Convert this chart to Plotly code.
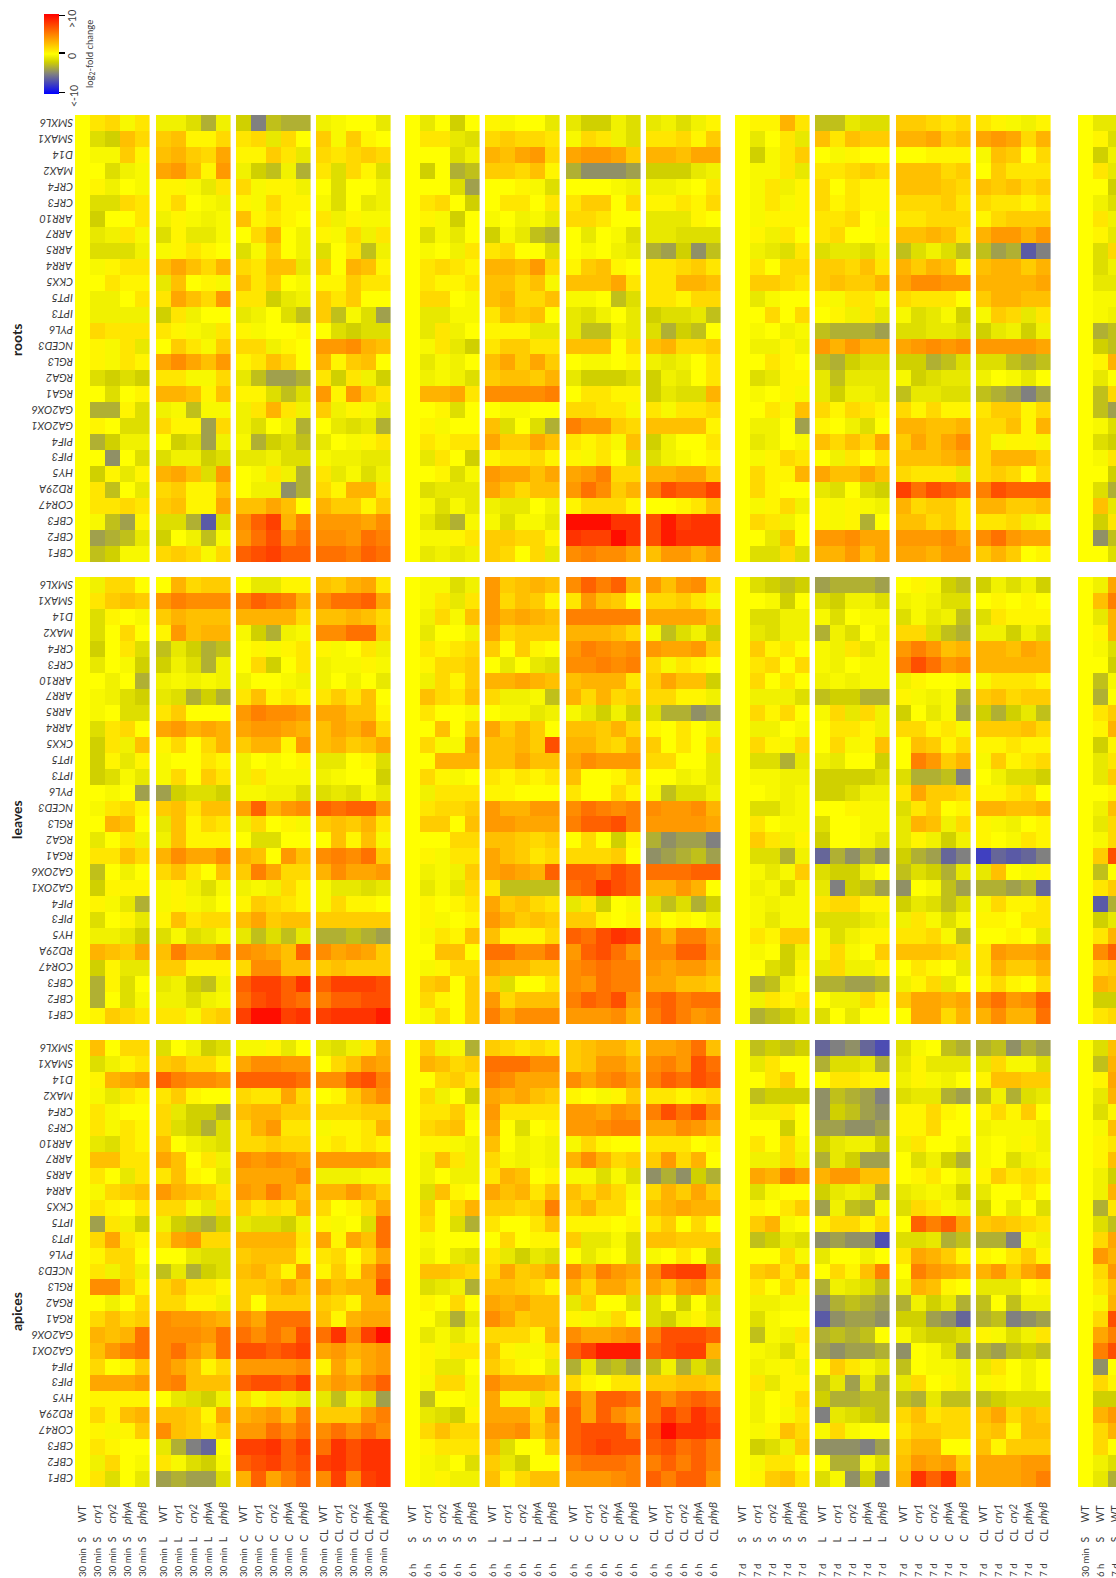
import plotly.graph_objects as go

W, H = 1116, 1578

genes = ["SMXL6","SMAX1","D14","MAX2","CRF4","CRF3","ARR10","ARR7","ARR5","ARR4","CKX5","IPT5","IPT3","PYL6",
         "NCED3","RGL3","RGA2","RGA1","GA2OX6","GA2OX1","PIF4","PIF3","HY5","RD29A","COR47","CBF3","CBF2","CBF1"]
genotypes = ["WT", "<i>cry1</i>", "<i>cry2</i>", "<i>phyA</i>", "<i>phyB</i>"]
conditions = ["S", "L", "C", "CL"]
times = ["30 min", "6 h", "7 d"]
tissues = ["roots", "leaves", "apices"]

# log2-fold change: one character per cell, see LEVELS
LEVELS = {"0":0,"1":.4,"2":1,"3":1.5,"4":2,"5":2.5,"6":3,"7":3.5,"8":4,"9":4.5,"A":5,"B":5.6,"C":6.2,"D":6.9,
          "E":7.5,"F":8,"G":9,"H":9.5,"a":-.3,"b":-.6,"c":-1,"d":-1.4,"e":-2,"f":-2.6,"g":-3.2,"h":-3.8,"i":-4.4,
          "j":-5,"k":-6,"l":-6.5,"m":-7,"n":-7.5}

roots_30min_S = """023a2 0de53 0aa41 00dba 01b0a 0dd32 0e002
0cb2a 0dddb 0a122 00211 0bb02 0bbbb 03222
01a2c 01a21 0dede 00d01 0gg1d 010dd 0gebb
00i0d 0e1c1 02f0c 02232 0afh1 0hgfc 0feaa"""
roots_30min_L = """bbdgb 45113 56437 78518 11ac2 130ab b1aba
d1cca a1210 57536 c501a 27538 e2b00 21ab2
042a4 79758 22aa3 66515 bafaa 311h3 0edhb
dbbed 675d8 34115 45117 ddgld e0bfa 343a3"""
roots_30min_C = """ejfgg 23c30 1142c befbg 3a11b 1a311 51210
0360b da40b 3255c 5240a 22ecb cb0df 1a001
33b10 12530 cfhhg 11dfd b262b bd0bg agedf
ccbdd 0a2bg 0bbig 55750 9CE6A 8BD9B CDECC"""
roots_30min_CL = """ba00c 4a410 32343 2d31d 0d00b ad0cb 2b1aa
1a3b2 d02fb 40651 11422 42400 4fadh 0dedd
88965 61450 2e2be 81842 4b1ac 0cdcg c0a12
abbcc 2cadb 31662 64414 88879 998BA BBACB"""
roots_6h_S = """0c0e0 022cd 000db 0e0gf 000dh 0230e 01ae0
0dac0 0a0b2 02321 02112 0330a 0ccaa 0c2b0
0a2ce 0cab0 0babd 06672 001d0 01a00 02122
0c20e 001da 0dccc 0adac 0cega 0aa12 0cbcb"""
roots_6h_L = """1a00c 34332 65783 44351 001ad 02202 a0bac
eacfg 2300d 66583 5535a 56335 25450 111cc
24422 57474 45546 9999A 0aa00 5d0dg 74475
12231 87757 75355 bcc0b adaac 44331 4303c"""
roots_6h_C = """ceebd a32bd 78874 giiih 000ab 24403 33200
0c0ad 0a0bc 14510 55572 aa0fd cdb0c cffbc
55503 0aa01 ceeed 02211 3322a A8843 212a5
1a20d 78A33 8B946 13331 HHHFF FEEHF 9A997"""
roots_6h_CL = """cbdb1 22314 66577 eeecb bba02 11213 ccc10
ccddd gheif 22342 22665 22133 eddcf dgef0
56334 bcb02 ebc02 ecdd6 2a223 55551 eb002
dba01 66774 ADCCE 00125 DGEFF DGFFF 58868"""
roots_7d_S = """01162 0c02c 0ea24 0aa2c 0a2b1 0a2a1 0a111
01b20 0bcd2 02033 04432 0ca00 00303 0a0ba
0bb1b 00210 0dc11 0a01a 002a5 0bb0h 0cb0a
0a132 03116 03100 0a13b 032b0 00c50 0dd3d"""
roots_7d_L = """ffcdd 52544 0a100 22343 30211 31211 2230a
23001 dccdb 44352 45446 1a22a 01b2c fgggh
86866 fgedd cfccc cebbc 31321 10bd0 53537
0b202 75575 cd0de 1a1ab 1a1g0 88977 66857"""
roots_7d_C = """44323 66745 00111 55534 55543 33342 22333
55652 fdbdf 64651 79988 32220 adcae ddccd
78989 eegfd aedcc fccdd 31311 66556 47579
55567 3222c EBDCB 63442 55342 88897 77688"""
roots_7d_CL = """21ab1 78736 a5403 04222 54534 32212 13444
68868 fhglj 56646 66667 46655 a43c2 ecbeb
88887 ddfgf b0ac0 fghjh 24413 33516 3a11a
36664 34303 ADCCC 66445 223ba 9B877 46401"""
roots_extra = """0cc 01d 0eb 02c 00e 0bd 02b
01c 0d3 0db 0cc 0aa 0ab 0gf
0ef 016 0c0 0f3 0fh 0ad 0de
0a2 00e 0dg 05c 0e2 0if 00d"""

leaves_30min_S = """0b330 02454 0d10a 0d030 0e02d 0c0ae 00b0g
0abde 0a0dd 0d230 0e2b5 0e1c1 0edac 00a0h
0a231 00650 0c02b 02253 0f0b0 0e111 01acg
0d01c 0bbce 06547 0e1cc 0g1d0 0g0da 01432"""
leaves_30min_L = """06344 8A999 46555 18566 fcegf ebdgb babab
cdgeg 24000 78676 13036 a0021 a3042 hedde
45255 c5132 b5111 69779 35205 a1bda a1ab0
15233 dadca 5A779 44111 cbefb bbdba 22a34"""
leaves_30min_C = """0cc11 ACBA6 66663 aegba 01a12 03e02 b00ab
25121 8A998 78876 46618 b0a01 b2aaa aabbd
7C689 b301a 0dd00 65085 4A733 bab31 14321
57455 cfdfc 9875C 39955 CEECF BDECB EHHEF"""
leaves_30min_CL = """54672 9BBC7 55653 99BB4 1a02b baa1a b0b0c
24250 77551 57683 56457 cc01d ba00e dcdac
CBCC8 45462 0515a 9A9B4 69778 accdc a3110
44444 ggfgh 97874 45444 CEEED ACCDD EFFFG"""
leaves_6h_S = """0aadb 0a2c2 0b3a5 0c00b 02123 01334 0b314
05325 0200a 00504 03aa7 00666 031a0 0b222
02334 04405 00033 01a22 0bab4 0cac3 01012
01a01 0a215 00550 0a133 04504 03104 0a304"""
leaves_6h_L = """84565 83541 86765 73444 40410 0c0cd 66765
3bbaf 0aacb 74640 5564D 55755 21212 11000
86688 88777 55434 75423 7876C 2ffff 74532
86454 51113 BB99B 76644 4d002 83555 A7999"""
leaves_6h_C = """9CAC6 28540 AAAAA 66653 8A989 99A9A 56662
63634 acebe 55463 66436 79888 50013 20031
9BA9A ACCDA 030e1 33340 CCBDC BCFDC c2e0a
44101 CBDFE 8CDB8 9ABAA 98BAA ACBD8 88896"""
leaves_6h_CL = """85893 3342a 77775 afdbe 87784 3a210 4755e
3311b dggih 1020b 40203 3300c 00bac afddb
98896 88887 gihhj ihgfh BBBCC 66860 dfdge
2010b 96AA7 99CC8 87886 77554 BCABB ACA89"""
leaves_7d_S = """0defe 00ae0 0ddbb 0cdbb 04120 02303 03020
0bbbd 03130 0bb0a 031a3 0ddgc 0aabb 00aba
0ddba 020aa 042b1 0ddgb 0aca4 0bada 0abaa
0acaa 02144 0a0eb 00de1 0gfb0 0b212 0gfec"""
leaves_7d_L = """hgggh debbd ad0aa gbd0b ab2ca ab0aa babaa
feegg a3c3b 0221b 03a15 bc00e eeeed eedbb
001aa d00aa e00ac kgigi deeb0 cjefh 23311
dddcb adb11 a3a04 c3bb1 gghhg 0bb31 d0c00"""
leaves_7d_C = """01aef babdd dacbf 33dfg 8A856 ADB89 b100a
1abag e0cah 3312a 05413 0A846 dggfj 27443
d2401 c65b3 c1beb eghkj fdegc i0afh ecdfd
b2ada 223af 55543 0210c b13c0 47767 07736"""
leaves_7d_CL = """ebdbe 01010 d2111 bbebd 66576 66666 a2221
45344 egecf 44453 11211 a4123 0bdde 11230
66556 1ab01 10a21 nklkj c50a1 gghgk a3112
11022 0010c 28778 26446 13103 9B89C 6966B"""
leaves_extra = """0b7 05A 0c6 016 0ad 00e 0fa
0g0 024 016 0e1 0c2 0c4 001
0b5 0c3 0a3 04D 0f0 024 0lg
0ec 026 09C 034 065 0ee 023"""

apices_30min_S = """05033 0db12 01678 0ac21 02a00 02a21 0cd21
05522 020c2 0a345 02102 0h2be 03721 01330
02b3b 09941 00b03 03534 0656B 058AB 03014
07778 01111 03156 01a14 02100 0b30a 02d0c"""
apices_30min_L = """d0bed 45331 CA998 24100 3ceeg 3degd 50bcd
7502b 2510c 86542 33ac3 befge 37833 00cdd
fcged 35221 3311b 98876 9998B 9B86B 97513
9A555 0cdeb 55417 95424 cgjk0 2adea hghhd"""
apices_30min_C = """aa1c0 79988 CCCCB 32273 56644 36822 33433
98987 77779 87A75 42326 cddeb 66662 45551
56418 44575 40444 97BBB B9B9D DDCDE 88889
CDDCE 3a2bc 6785A 88B9B EEFCE CDECD 6C7AC"""
apices_30min_CL = """cdb26 03587 99CDA 01479 33344 a1126 12121
88887 bbbaa 66864 30137 1a0dB 7175B 23037
1417B 7566D 43166 51677 BF9EH 78678 17478
687AC cfbdh 4448A 9B9B9 BFDFF EFDFF 9E9EF"""
apices_6h_S = """04bag 06534 00342 03b0e 0224a 03450 011ab
0b52b 0b0bb 0d510 04036 030dg 0a000 0b0cd
05543 0dcbg 01030 00cgc 0caca 01a22 01cc0
0a33a 0f00a 0cde1 03533 01222 0ab0d 0a1bb"""
apices_6h_L = """43232 BBB99 A9777 76754 82222 70d01 50bab
3abab 26501 75625 4434A 20025 03011 2cecd
37457 55431 76755 97455 33316 51aa2 4210c
97776 7aac2 77739 88947 6d004 4ce00 51355"""
apices_6h_C = """45664 45886 979A8 10a14 88798 889AA a3100
69634 aadad 5353a 46330 11101 4ccad 0ca0d
96A87 63775 c400d 1ab30 97789 CEGGG gcgfh
31022 B7CCB C7C97 CDDDA CDEDD ABBBA 8889A"""
apices_6h_CL = """778B5 9A8DB ACBDC 22123 ADBD9 77986 22201
48360 igieg 36474 56766 24030 55444 a020e
9DEE9 75895 d0e0d deb1c ADDDC CDEE6 fbgdf
44554 B9BCB BECFD DHFFE CDBCA ACACA CACC8"""
apices_7d_S = """0fefe 0c200 00240 0feee 0bb20 000e0 0203a
0bb3b 076A8 0da00 01024 046a0 0fecd 0003a
04525 02031 0bbaa 0da00 0fab2 0abd1 0ba1b
02c11 0b013 0b0a2 0a153 0edb4 0a220 01452"""
apices_7d_L = """kjikm gddcg 02211 ifghj iefhi hhiih ecbbe
gcehh 68855 ecbcg hbfga 13313 ihiim c00b0
0315A gbcdf jgfgh lihhi gfgf0 hihhg 042ac
fchcg eggff jcdef a3a00 iiijh 0ggad daiej"""
apices_7d_C = """da0fg c1ccc b1ab0 dccgh 11310 11300 b200b
0dbeg 0120b cbabe d32ab 0CAC7 ddcgf 27641
0A876 b6510 gbecg eehik adeed i0adh f0aab
c301b fgcff 35233 24433 46600 58784 6FCF7"""
apices_7d_CL = """gfigh c3aad 15544 fbgdc 13140 baaab a0a1b
a0dba 14232 c0020 e0c0d 45432 ggjab 10241
68479 ccc01 f0fbb gfjih 1adb2 ghfef c20b0
a10b0 feddd 57354 45155 51444 77788 7778A"""
apices_extra = """0d5 0f6 017 0c6 0d1 0a5 012
015 0be 0b6 0g2 0df 037 086
038 025 0a6 03D 07A 0AD 0i0
031 0ee 068 036 030 0bd 0cg"""

panels = {
 "roots": [roots_30min_S, roots_30min_L, roots_30min_C, roots_30min_CL, roots_6h_S, roots_6h_L, roots_6h_C,
           roots_6h_CL, roots_7d_S, roots_7d_L, roots_7d_C, roots_7d_CL, roots_extra],
 "leaves": [leaves_30min_S, leaves_30min_L, leaves_30min_C, leaves_30min_CL, leaves_6h_S, leaves_6h_L, leaves_6h_C,
            leaves_6h_CL, leaves_7d_S, leaves_7d_L, leaves_7d_C, leaves_7d_CL, leaves_extra],
 "apices": [apices_30min_S, apices_30min_L, apices_30min_C, apices_30min_CL, apices_6h_S, apices_6h_L, apices_6h_C,
            apices_6h_CL, apices_7d_S, apices_7d_L, apices_7d_C, apices_7d_CL, apices_extra],
}

# layout in pixels of the page
PANEL_LEFT = [75, 156, 236, 316, 405, 485, 566, 646, 735, 815, 896, 976, 1078]
PANEL_W = 74.6
ROW_TOP = {"roots": 115, "leaves": 577, "apices": 1040}
ROW_H = 447
TISSUE_Y = {"roots": 340, "leaves": 820, "apices": 1312}
TXT = "#3c3c3c"
FONT = "Lato, 'Open Sans', sans-serif"

def px(x): return x / W
def py(y): return 1 - y / H
def norm(v): return (v + 10) / 20

colorscale = [[norm(-10), "#0000ff"], [norm(-5), "#808080"], [norm(-2), "#d0d000"],
              [norm(0), "#ffff00"], [norm(5), "#ff8000"], [norm(10), "#ff0000"]]

fig = go.Figure()
ann = []
layout_axes = {}
n = 0
for tissue in tissues:
    top = ROW_TOP[tissue]
    for p, text in enumerate(panels[tissue]):
        n += 1
        rows = text.split()
        ncol = len(rows[0])
        assert len(rows) == len(genes), (tissue, p, len(rows))
        assert all(len(r) == ncol for r in rows), (tissue, p)
        z = [[LEVELS[c] for c in r] for r in rows]
        left = PANEL_LEFT[p]
        right = min(left + PANEL_W, W)
        xr = [-0.5, -0.5 + (right - left) / (PANEL_W / 5)]
        fig.add_trace(go.Heatmap(z=z, x=list(range(ncol)), y=list(range(len(genes))),
                                 xaxis=f"x{n}", yaxis=f"y{n}", coloraxis="coloraxis",
                                 hoverongaps=False, xgap=0, ygap=0))
        layout_axes[f"xaxis{n}"] = dict(domain=[px(left), px(right)], range=xr, visible=False,
                                        anchor=f"y{n}", fixedrange=True)
        layout_axes[f"yaxis{n}"] = dict(domain=[py(top + ROW_H), py(top)], range=[len(genes) - .5, -.5],
                                        visible=False, anchor=f"x{n}", fixedrange=True)
        if p == 0:
            for i, g in enumerate(genes):
                ann.append(dict(text=f"<i>{g}</i>", x=-.5, y=i, xref=f"x{n}", yref=f"y{n}", showarrow=False,
                                textangle=180, xanchor="right", yanchor="middle", xshift=0,
                                font=dict(size=11, color=TXT, family=FONT)))
    ann.append(dict(text=f"<b>{tissue}</b>", x=px(16), y=py(TISSUE_Y[tissue]), xref="paper", yref="paper",
                    showarrow=False, textangle=-90, xanchor="center", yanchor="middle",
                    font=dict(size=14, color="#222222", family=FONT)))

# bottom labels use the axes of the last row of panels
first_last_row = n - len(PANEL_LEFT)
for p in range(len(PANEL_LEFT)):
    ax = f"x{first_last_row + p + 1}"
    for c in range(5 if p < 12 else 3):
        if p < 12:
            geno, cond, tm = genotypes[c], conditions[p % 4], times[p // 4]
        else:
            geno, cond, tm = "WT", "S", times[c]
        for txt, y, anchor, size in ((geno, 1513, "middle", 10.5), (cond, 1544, "bottom", 10.5),
                                     (tm, 1579, "bottom", 9.5)):
            ann.append(dict(text=txt, x=c, y=py(y), xref=ax, yref="paper", showarrow=False, textangle=-90,
                            xanchor="center", yanchor=anchor, font=dict(size=size, color=TXT, family=FONT)))

# colour key labels and crossing tick lines
key_labels = ((">10", 72, 19), ("0", 72, 56), ("<-10", 74, 96))
for txt, x, y in key_labels:
    ann.append(dict(text=txt.replace("<", "&lt;").replace(">", "&gt;"), x=px(x), y=py(y), xref="paper", yref="paper",
                    showarrow=False, textangle=-90, xanchor="center", yanchor="middle",
                    font=dict(size=10.5, color=TXT, family=FONT)))
ann.append(dict(text="log<sub>2</sub>-fold change", x=px(90), y=py(54), xref="paper", yref="paper", showarrow=False,
                textangle=-90, xanchor="center", yanchor="middle", font=dict(size=9.5, color=TXT, family=FONT)))
shapes = [dict(type="line", xref="paper", yref="paper", x0=px(47.5), x1=px(59), y0=py(y), y1=py(y),
               line=dict(color="black", width=1.5)) for y in (16, 53, 91)]

fig.update_layout(
    width=W, height=H, margin=dict(l=0, r=0, t=0, b=0, autoexpand=False),
    paper_bgcolor="white", plot_bgcolor="white", font=dict(family=FONT, color=TXT),
    annotations=ann, shapes=shapes, showlegend=False,
    coloraxis=dict(cmin=-10, cmax=10, colorscale=colorscale,
                   colorbar=dict(x=px(44), xanchor="left", y=py(54), yanchor="middle", thickness=15,
                                 thicknessmode="pixels", len=80, lenmode="pixels", xpad=0, ypad=0,
                                 outlinewidth=0, ticks="outside", ticklen=6, tickwidth=1.5, tickcolor="black",
                                 tickmode="array", tickvals=[-9.6, 0.3, 9.6], showticklabels=False)),
    **layout_axes,
)

fig.write_html("out.html", config={"displayModeBar": False, "staticPlot": True},
               post_script="document.body.style.margin='0';document.documentElement.style.overflow='hidden';")
